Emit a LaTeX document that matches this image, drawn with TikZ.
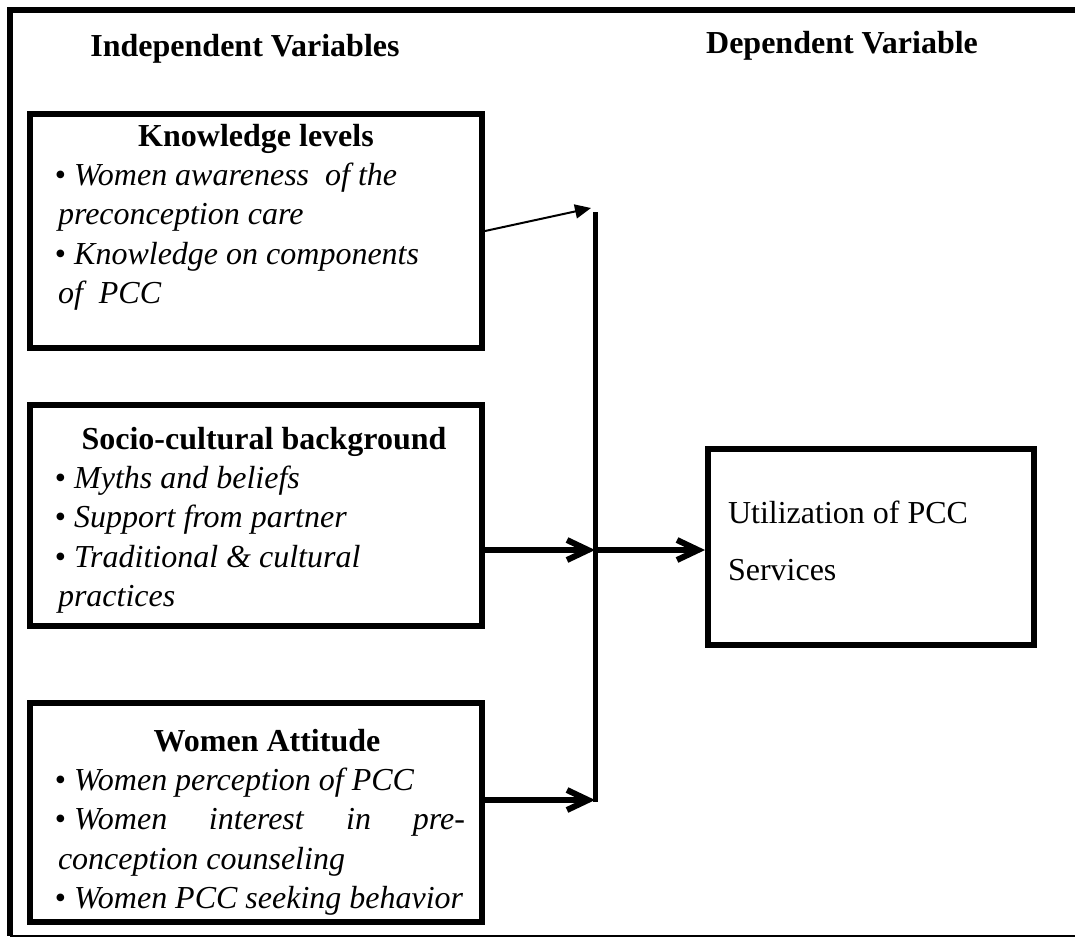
\documentclass[tikz,border=0pt]{standalone}
\usepackage{fontspec}
\setmainfont{Liberation Serif}
\usetikzlibrary{arrows.meta}
\usetikzlibrary{positioning}

\newcommand{\firstline}{\hspace*{12.5pt}\textbullet\ }
\newcommand{\nextline}{\hspace*{14pt}}

\begin{document}
\begin{tikzpicture}[x=0.5pt, y=-0.5pt,
      factor/.style={rectangle, draw=black, line width=3pt, inner sep=0pt, anchor=north west, font=\fontsize{16}{19.7}\selectfont},
      outcome/.style={rectangle, draw=black, line width=3pt, inner sep=0pt, anchor=north west, font=\fontsize{16}{28.5}\selectfont},
      title/.style={anchor=base, inner sep=0pt, font=\fontsize{16}{19.7}\selectfont\bfseries},
      thinarrow/.style={-{Triangle[length=8pt,width=7pt]}, line width=1pt},
      thickarrow/.style={-{Straight Barb[length=10.5pt,width=10pt]}, line width=3pt},
      joinbar/.style={line width=2.5pt}
      ]
      \useasboundingbox (0,0) rectangle (1075,939);

      % Frame
      \draw[line width=3pt] (1075,10) -- (10,10) -- (10,936);
      \draw[line width=1pt] (10,936) -- (1075,936);

      % Nodes
      \node[title] (indep) at (245,56) {Independent Variables};
      \node[title] (dep) at (842,53) {Dependent Variable};

      \node[factor] (know) at (27,111) {\parbox[c][117pt][t]{226pt}{%
        {\centering\rule{0pt}{16pt}\bfseries Knowledge levels\par}
        \raggedright
        \firstline\textit{Women awareness\ \ of the}\\
        \nextline\textit{preconception care}\\
        \firstline\textit{Knowledge on components}\\
        \nextline\textit{of\ \ PCC}}};

      \node[factor] (socio) at (27,402) {\parbox[c][110.5pt][t]{226pt}{%
        {\centering\rule{0pt}{22pt}\hspace*{8pt}\bfseries Socio-cultural background\par}
        \raggedright
        \firstline\textit{Myths and beliefs}\\
        \firstline\textit{Support from partner}\\
        \firstline\textit{Traditional \& cultural}\\
        \nextline\textit{practices}}};

      \node[factor] (attit) at (27,700) {\parbox[c][109.5pt][t]{226pt}{%
        {\centering\rule{0pt}{24pt}\hspace*{11pt}\bfseries Women Attitude\par}
        \raggedright
        \firstline\textit{Women perception of PCC}\\
        \hspace*{12.5pt}\hbox to 205pt{\textbullet\ \textit{Women}\hfill\textit{interest}\hfill\textit{in}\hfill\textit{pre-}}\\
        \nextline\textit{conception counseling}\\
        \firstline\textit{Women PCC seeking behavior}}};

      \node[outcome] (util) at (705,446) {\parbox[c][98pt][t]{163pt}{%
        \raggedright
        \rule{0pt}{37pt}\hspace*{10pt}Utilization of PCC\\
        \hspace*{10pt}Services}};

      \coordinate (bartop) at (595,212);
      \coordinate (barbot) at (595,802);
      \coordinate (kntip) at (591,208);
      \coordinate (sjoin) at (595,550);
      \coordinate (ajoin) at (595,800);

      % Arrows
      \draw[joinbar] (bartop) -- (barbot);
      \draw[thinarrow] (know.east) -- (kntip);
      \draw[thickarrow] (socio.east |- sjoin) -- (sjoin);
      \draw[thickarrow] (sjoin) -- (util.west |- sjoin);
      \draw[thickarrow] (attit.east |- ajoin) -- (ajoin);

    \end{tikzpicture}
\end{document}
